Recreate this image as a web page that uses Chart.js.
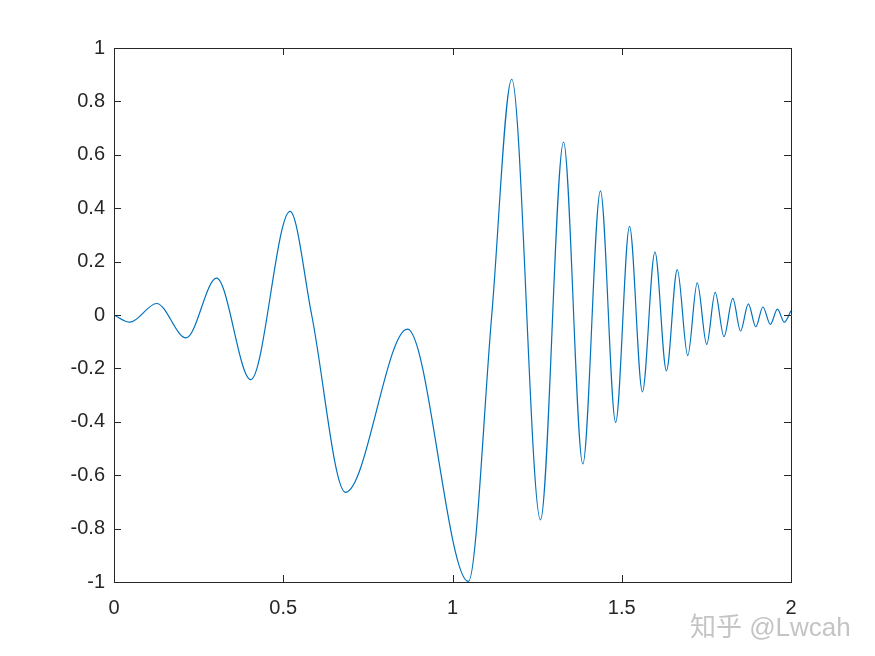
<!DOCTYPE html>
<html>
<head>
<meta charset="utf-8">
<script src="https://cdn.jsdelivr.net/npm/chart.js@4.4.1/dist/chart.umd.min.js"></script>
<style>
    html, body { margin: 0; padding: 0; background: #fff; }
    #wrap { position: relative; width: 875px; height: 656px; }
    #mark {
        position: absolute; left: 690px; top: 606px; line-height: 1;
        font: 26px 'Liberation Sans', 'Noto Sans CJK SC', sans-serif;
        color: #c4c4c4; white-space: nowrap;
    }
</style>
</head>
<body>
<div id="wrap">
    <canvas id="chart" width="875" height="656"></canvas>
    <div id="mark">知乎 @Lwcah</div>
</div>
<script>
// values (extrema + a few crossings)
const xVals = [0, 0.047, 0.126, 0.213, 0.303, 0.404, 0.520, 0.584, 0.684, 0.867,
    1.047, 1.116, 1.175, 1.260, 1.328, 1.385, 1.437, 1.482, 1.523, 1.561,
    1.598, 1.632, 1.664, 1.695, 1.723, 1.751, 1.776, 1.802, 1.828, 1.851,
    1.874, 1.896, 1.917, 1.939, 1.960, 1.980, 2.0];
const yVals = [0, -0.027, 0.043, -0.086, 0.138, -0.242, 0.388, 0, -0.664, -0.053,
    -0.998, 0, 0.883, -0.767, 0.648, -0.558, 0.465, -0.402, 0.332, -0.288,
    0.236, -0.209, 0.170, -0.152, 0.120, -0.110, 0.085, -0.081, 0.062, -0.060,
    0.042, -0.044, 0.030, -0.035, 0.022, -0.027, 0.016];

const xTicks = [0, 0.5, 1, 1.5, 2];
const yTicks = [-1, -0.8, -0.6, -0.4, -0.2, 0, 0.2, 0.4, 0.6, 0.8, 1];

const axisColor = '#262626';
const tickFont = { family: "'Liberation Sans', Arial, sans-serif", size: 20 };

// MATLAB style inward tick marks on all four sides
const inwardTicks = {
    id: 'inwardTicks',
    afterDraw(chart) {
        const { ctx, chartArea: a, scales } = chart;
        const len = 7;
        ctx.save();
        ctx.strokeStyle = axisColor;
        ctx.lineWidth = 1;
        ctx.beginPath();
        xTicks.forEach(v => {
            const px = Math.round(scales.x.getPixelForValue(v)) + 0.5;
            ctx.moveTo(px, a.bottom); ctx.lineTo(px, a.bottom - len);
            ctx.moveTo(px, a.top); ctx.lineTo(px, a.top + len);
        });
        yTicks.forEach(v => {
            const py = Math.round(scales.y.getPixelForValue(v)) + 0.5;
            ctx.moveTo(a.left, py); ctx.lineTo(a.left + len, py);
            ctx.moveTo(a.right, py); ctx.lineTo(a.right - len, py);
        });
        ctx.stroke();
        ctx.restore();
    }
};

const fmt = v => String(+v.toFixed(2));

new Chart(document.getElementById('chart'), {
    type: 'line',
    data: {
        datasets: [{
            data: xVals.map((x, i) => ({ x: x, y: yVals[i] })),
            borderColor: '#0072BD',
            borderWidth: 1.2,
            pointRadius: 0,
            cubicInterpolationMode: 'monotone',
            fill: false
        }]
    },
    options: {
        responsive: false,
        animation: false,
        events: [],
        layout: { padding: { top: 48, right: 0, bottom: 0, left: 0 } },
        plugins: { legend: { display: false }, tooltip: { enabled: false } },
        scales: {
            x: {
                type: 'linear', position: 'bottom', min: 0, max: 2,
                afterBuildTicks: s => { s.ticks = xTicks.map(v => ({ value: v })); },
                afterFit: s => { s.height = 74; },
                grid: { display: false, drawTicks: false },
                border: { display: true, color: axisColor, width: 1 },
                ticks: { color: axisColor, font: tickFont, padding: 14, maxRotation: 0, callback: fmt }
            },
            x2: {
                type: 'linear', position: 'top', min: 0, max: 2,
                afterFit: s => { s.height = 0; },
                grid: { display: false, drawTicks: false },
                border: { display: true, color: axisColor, width: 1 },
                ticks: { display: false }
            },
            y: {
                type: 'linear', position: 'left', min: -1, max: 1,
                afterBuildTicks: s => { s.ticks = yTicks.map(v => ({ value: v })); },
                afterFit: s => { s.width = 114; },
                grid: { display: false, drawTicks: false },
                border: { display: true, color: axisColor, width: 1 },
                ticks: { color: axisColor, font: tickFont, padding: 9, callback: fmt }
            },
            y2: {
                type: 'linear', position: 'right', min: -1, max: 1,
                afterFit: s => { s.width = 84; },
                grid: { display: false, drawTicks: false },
                border: { display: true, color: axisColor, width: 1 },
                ticks: { display: false }
            }
        }
    },
    plugins: [inwardTicks]
});
</script>
</body>
</html>
